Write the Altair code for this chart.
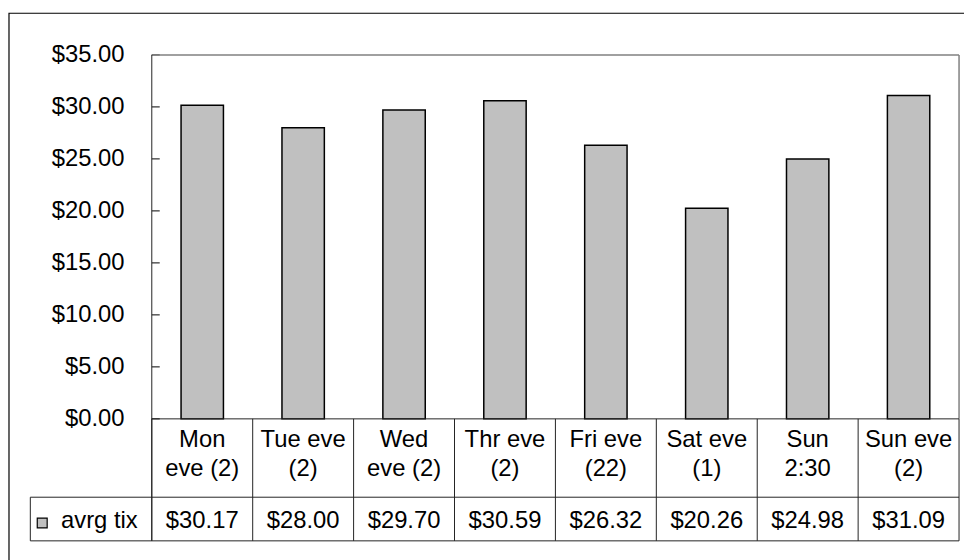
import altair as alt
import pandas as pd

categories = ["Mon\neve (2)", "Tue eve\n(2)", "Wed\neve (2)", "Thr eve\n(2)",
              "Fri eve\n(22)", "Sat eve\n(1)", "Sun\n2:30", "Sun eve\n(2)"]
avrg_tix = [30.17, 28.00, 29.70, 30.59, 26.32, 20.26, 24.98, 31.09]
y_ticks = [0, 5, 10, 15, 20, 25, 30, 35]
series_name = "avrg tix"

FONT = "Liberation Sans"
FS = 24
W, PH, H = 814, 367, 490  # plot width, bar-area height, total (bars + table)

df = pd.DataFrame({"cat": categories, "value": avrg_tix})
ticks_df = pd.DataFrame({"t": y_ticks})
one = pd.DataFrame({"k": [0]})

xs = alt.Scale(domain=categories, paddingInner=0, paddingOuter=0)
ys = alt.Scale(domain=[0, 35], range=[PH, 0], nice=False, zero=True)

bars = alt.Chart(df).mark_bar(
    width={"band": 0.42}, fill="#C0C0C0", stroke="black", strokeWidth=1.5
).encode(
    x=alt.X("cat:N", scale=xs, axis=None, sort=categories),
    y=alt.Y("value:Q", scale=ys,
            axis=alt.Axis(values=y_ticks, format="$.2f", domain=False, ticks=False,
                          grid=False, labelFont=FONT, labelFontSize=FS,
                          labelColor="black", labelPadding=28, title=None)),
)

tick_marks = alt.Chart(ticks_df).mark_rule(color="black", strokeWidth=1).encode(
    y=alt.Y("t:Q", scale=ys), x=alt.value(0), x2=alt.value(8)
)

frame_top = alt.Chart(one).mark_rule(color="#808080", strokeWidth=1.5).encode(
    x=alt.value(0), x2=alt.value(W), y=alt.value(0))
frame_right = alt.Chart(one).mark_rule(color="#808080", strokeWidth=1.5).encode(
    x=alt.value(W), y=alt.value(0), y2=alt.value(PH))

LINE = "#222222"
h1 = alt.Chart(one).mark_rule(color=LINE, strokeWidth=1).encode(
    x=alt.value(0), x2=alt.value(W), y=alt.value(PH))
h2 = alt.Chart(one).mark_rule(color=LINE, strokeWidth=1).encode(
    x=alt.value(-122.5), x2=alt.value(W), y=alt.value(446))
h3 = alt.Chart(one).mark_rule(color=LINE, strokeWidth=1).encode(
    x=alt.value(-122.5), x2=alt.value(W), y=alt.value(H))
v_left_axis = alt.Chart(one).mark_rule(color=LINE, strokeWidth=1).encode(
    x=alt.value(0), y=alt.value(0), y2=alt.value(H))
v_legend = alt.Chart(one).mark_rule(color=LINE, strokeWidth=1).encode(
    x=alt.value(-122.5), y=alt.value(446), y2=alt.value(H))
v_right = alt.Chart(one).mark_rule(color=LINE, strokeWidth=1).encode(
    x=alt.value(W), y=alt.value(PH), y2=alt.value(H))
v_cols = alt.Chart(df).mark_rule(color=LINE, strokeWidth=1).encode(
    x=alt.X("cat:N", scale=xs, sort=categories, bandPosition=0),
    y=alt.value(PH), y2=alt.value(H))

cat_text = alt.Chart(df).mark_text(
    font=FONT, fontSize=FS, lineBreak="\n", lineHeight=30, baseline="middle",
    align="center", color="black"
).encode(x=alt.X("cat:N", scale=xs, sort=categories), y=alt.value(388), text="cat:N")

val_text = alt.Chart(df).mark_text(
    font=FONT, fontSize=FS, baseline="middle", align="center", color="black"
).encode(x=alt.X("cat:N", scale=xs, sort=categories), y=alt.value(470),
         text=alt.Text("value:Q", format="$.2f"))

legend_df = pd.DataFrame({"name": [series_name]})
swatch = alt.Chart(legend_df).mark_rect(fill="#C0C0C0", stroke="black", strokeWidth=1.2).encode(
    x=alt.value(-115.5), x2=alt.value(-105.5), y=alt.value(467), y2=alt.value(477))
legend_text = alt.Chart(legend_df).mark_text(
    font=FONT, fontSize=FS, baseline="middle", align="left", color="black"
).encode(x=alt.value(-91.5), y=alt.value(470), text="name:N")

outer = alt.Chart(one).mark_rect(fill=None, fillOpacity=0, stroke="black", strokeWidth=1.2).encode(
    x=alt.value(-144), x2=alt.value(W + 200), y=alt.value(-42), y2=alt.value(H + 200))

chart = alt.layer(
    outer, bars, tick_marks, frame_top, frame_right, h1, h2, h3,
    v_left_axis, v_legend, v_right, v_cols, cat_text, val_text, swatch, legend_text
).properties(
    width=W, height=H,
    autosize=alt.AutoSizeParams(type="none"),
    padding={"left": 145, "top": 45, "right": 5, "bottom": 17},
    background="white",
).configure_view(stroke=None)

chart.save("out.html", embed_options={"renderer": "svg", "actions": False})
